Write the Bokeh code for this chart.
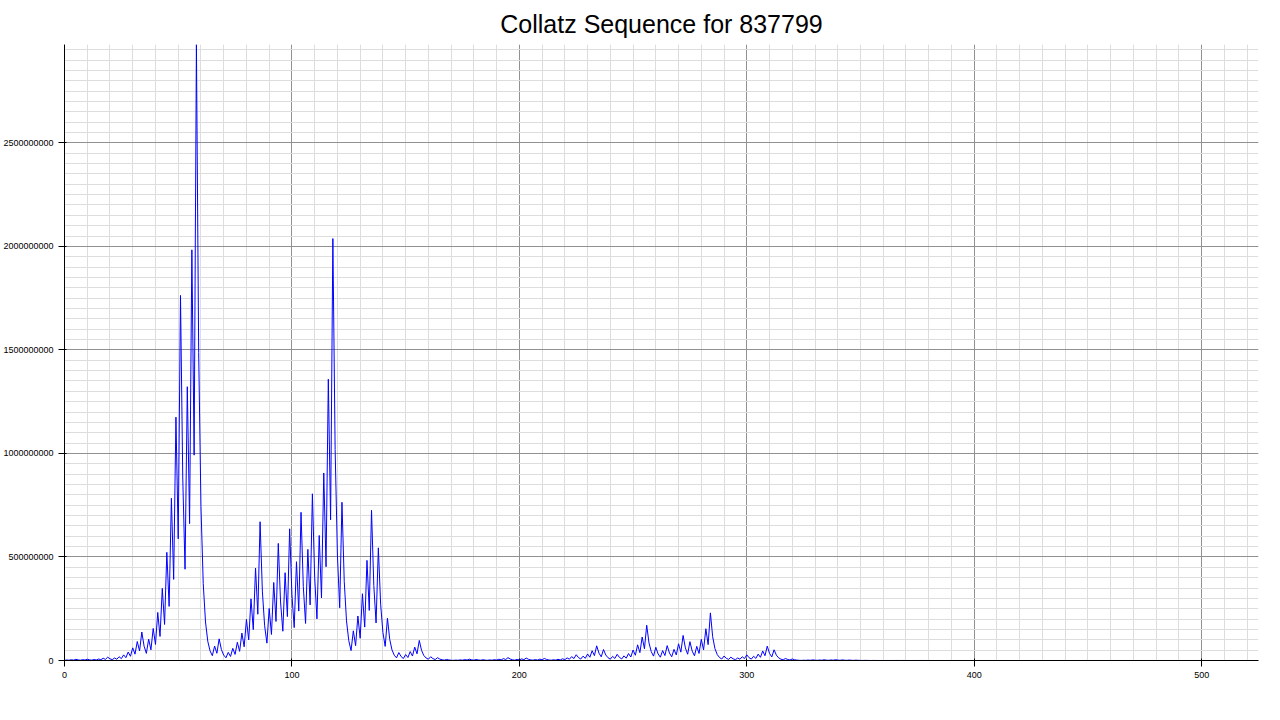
from bokeh.plotting import figure
from bokeh.models import Range1d, SingleIntervalTicker, BasicTickFormatter
from bokeh.embed import file_html
from bokeh.resources import INLINE

start_value = 837799
title_text = "Collatz Sequence for 837799"

# the sequence shown is the Collatz trajectory of start_value
seq = [start_value]
while seq[-1] != 1:
    n = seq[-1]
    seq.append(n // 2 if n % 2 == 0 else 3 * n + 1)
steps = list(range(len(seq)))

p = figure(width=1264, height=700, output_backend="svg", toolbar_location=None,
           x_range=Range1d(0, len(seq)), y_range=Range1d(0, max(seq)),
           min_border_left=52, min_border_right=6, min_border_top=14, min_border_bottom=40)
p.title.text = title_text
p.title.align = "center"
p.title.text_font = "Liberation Sans"
p.title.text_font_size = "25px"
p.title.text_font_style = "normal"
p.title.text_color = "black"
p.title.standoff = 14
p.outline_line_color = None

p.xaxis.ticker = SingleIntervalTicker(interval=100, num_minor_ticks=10)
p.yaxis.ticker = SingleIntervalTicker(interval=500000000, num_minor_ticks=10)
p.yaxis.formatter = BasicTickFormatter(use_scientific=False)
for ax in (p.xaxis[0], p.yaxis[0]):
    ax.major_label_text_font = "Liberation Sans"
    ax.major_label_text_font_size = "9px"
    ax.major_label_text_color = "black"
    ax.axis_line_color = "black"
    ax.major_tick_line_color = "black"
    ax.minor_tick_line_color = None
for g in (p.xgrid[0], p.ygrid[0]):
    g.grid_line_color = "#888888"
    g.grid_line_alpha = 0.9
    g.minor_grid_line_color = "#dddddd"

p.line(steps, seq, line_color="blue", line_width=1)

open("out.html", "w").write(file_html(p, INLINE))
